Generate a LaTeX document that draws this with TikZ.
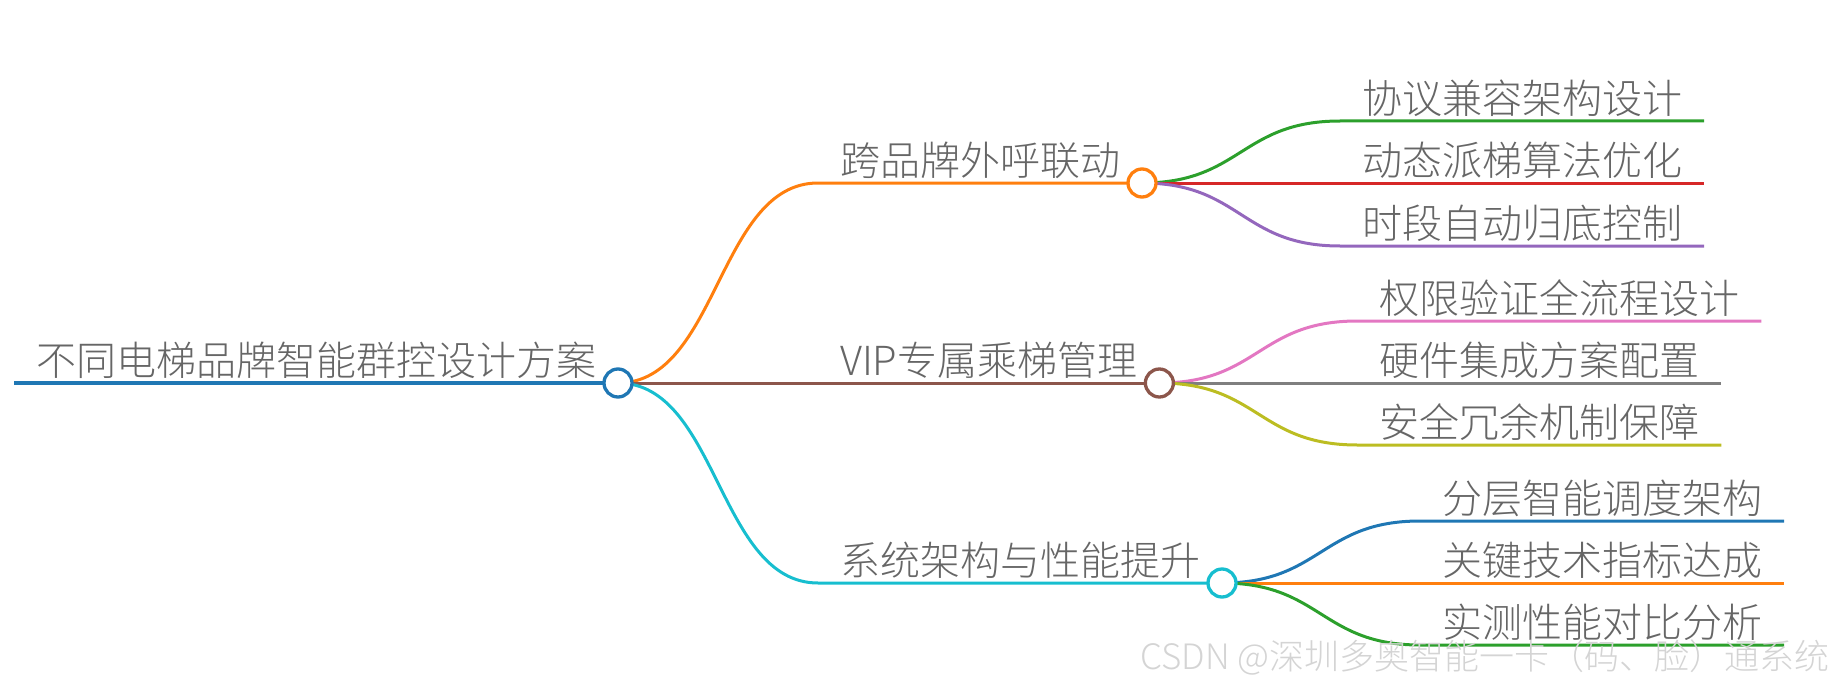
\documentclass[tikz,border=0pt]{standalone}
\usepackage{fontspec}
\setmainfont{Noto Sans CJK SC}[UprightFont=* Light]
\usetikzlibrary{positioning}
\definecolor{ink}{RGB}{102,102,102}
\definecolor{wmgray}{RGB}{212,212,212}
\definecolor{cblue}{RGB}{31,119,180}
\definecolor{corange}{RGB}{255,127,14}
\definecolor{cgreen}{RGB}{44,160,44}
\definecolor{cred}{RGB}{214,39,40}
\definecolor{cpurple}{RGB}{148,103,189}
\definecolor{cbrown}{RGB}{140,86,75}
\definecolor{cpink}{RGB}{227,119,194}
\definecolor{cgray}{RGB}{127,127,127}
\definecolor{colive}{RGB}{188,189,34}
\definecolor{ccyan}{RGB}{23,190,207}

\begin{document}
\begin{tikzpicture}[x=0.5pt,y=-0.5pt,
 lbl/.style={anchor=south west,inner xsep=11pt,inner ysep=4pt,outer sep=0pt,text depth=0pt,text=ink,font=\fontsize{20}{24}\selectfont},
 dot/.style={circle,draw=#1,line width=1.65pt,fill=white,minimum size=14pt,inner sep=0pt},
 lnk/.style={draw=#1,line width=1.5pt}]
 \useasboundingbox (0,0) rectangle (1835,690);
 \node[lbl](root) at (14,383){不同电梯品牌智能群控设计方案};
 \node[lbl](ta) at (818,183){跨品牌外呼联动};
 \node[lbl](tb) at (818,383){VIP专属乘梯管理};
 \node[lbl](tc) at (818,583){系统架构与性能提升};
 \node[lbl](a1) at ([shift={(198,-62)}]ta.south east){协议兼容架构设计};
 \node[lbl](a2) at ([shift={(198,0)}]ta.south east){动态派梯算法优化};
 \node[lbl](a3) at ([shift={(198,63)}]ta.south east){时段自动归底控制};
 \node[lbl](b1) at ([shift={(198,-62)}]tb.south east){权限验证全流程设计};
 \node[lbl](b2) at ([shift={(198,0)}]tb.south east){硬件集成方案配置};
 \node[lbl](b3) at ([shift={(198,62)}]tb.south east){安全冗余机制保障};
 \node[lbl](c1) at ([shift={(198,-62)}]tc.south east){分层智能调度架构};
 \node[lbl](c2) at ([shift={(198,0)}]tc.south east){关键技术指标达成};
 \node[lbl](c3) at ([shift={(198,62)}]tc.south east){实测性能对比分析};
 \draw[lnk=cblue,line width=2pt](root.south west)--(root.south east);
 \draw[lnk=corange](root.south east) .. controls +(100,0) and +(-100,0) .. (ta.south west)--(ta.south east);
 \draw[lnk=cbrown](root.south east)--(tb.south west)--(tb.south east);
 \draw[lnk=ccyan](root.south east) .. controls +(100,0) and +(-100,0) .. (tc.south west)--(tc.south east);
 \draw[lnk=cgreen](ta.south east) .. controls +(99,0) and +(-99,0) .. (a1.south west)--(a1.south east);
 \draw[lnk=cred](ta.south east)--(a2.south west)--(a2.south east);
 \draw[lnk=cpurple](ta.south east) .. controls +(99,0) and +(-99,0) .. (a3.south west)--(a3.south east);
 \draw[lnk=cpink](tb.south east) .. controls +(99,0) and +(-99,0) .. (b1.south west)--(b1.south east);
 \draw[lnk=cgray](tb.south east)--(b2.south west)--(b2.south east);
 \draw[lnk=colive](tb.south east) .. controls +(99,0) and +(-99,0) .. (b3.south west)--(b3.south east);
 \draw[lnk=cblue](tc.south east) .. controls +(99,0) and +(-99,0) .. (c1.south west)--(c1.south east);
 \draw[lnk=corange](tc.south east)--(c2.south west)--(c2.south east);
 \draw[lnk=cgreen](tc.south east) .. controls +(99,0) and +(-99,0) .. (c3.south west)--(c3.south east);
 \node[dot=cblue](rc) at (root.south east){};
 \node[dot=corange](ac) at (ta.south east){};
 \node[dot=cbrown](bc) at (tb.south east){};
 \node[dot=ccyan](cc) at (tc.south east){};
 \node[anchor=base east,inner sep=0pt,text=wmgray,font=\fontsize{17.5}{20}\selectfont](wm) at (1830,669){CSDN @深圳多奥智能一卡（码、脸）通系统};
\end{tikzpicture}
\end{document}
